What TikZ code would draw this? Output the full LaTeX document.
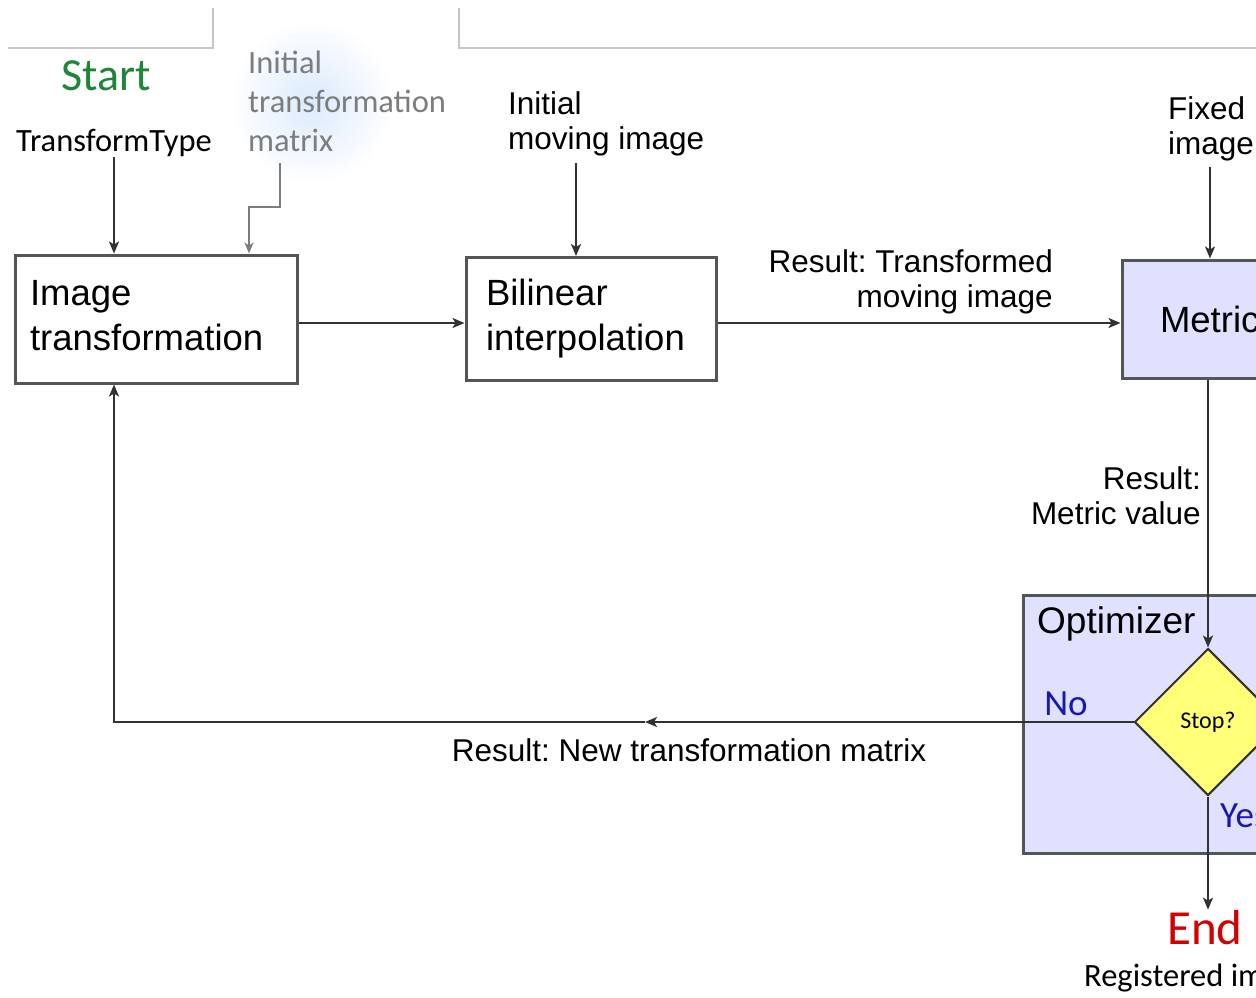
\documentclass[tikz,border=0pt]{standalone}
\usepackage{fontspec}
\setmainfont{Liberation Sans}
\newfontfamily\segoe{Carlito}
\usetikzlibrary{shapes.geometric,arrows.meta}
\definecolor{lav}{RGB}{224,224,255}
\definecolor{framec}{RGB}{85,85,85}
\definecolor{linec}{RGB}{50,50,50}
\definecolor{startg}{RGB}{30,135,55}
\definecolor{endr}{RGB}{210,0,0}
\definecolor{yesno}{RGB}{25,25,175}
\definecolor{stopy}{RGB}{255,255,120}
\definecolor{graytx}{RGB}{125,125,125}
\definecolor{glow}{RGB}{218,234,252}
\frenchspacing
\tikzset{
  box/.style={draw=framec, line width=3pt, rectangle, inner sep=0pt, align=left,
    font=\fontsize{36.5}{45}\selectfont},
  lab/.style={inner sep=0pt, font=\fontsize{31.5}{35}\selectfont},
  seg/.style={inner sep=0pt, font=\segoe\fontsize{32.5}{39}\selectfont},
  conn/.style={draw=linec, line width=2pt, -{Stealth[length=12pt,width=10pt,inset=3pt]}},
  gconn/.style={draw=graytx, line width=2pt, -{Stealth[length=11pt,width=9pt,inset=3pt]}},
}
\begin{document}
\begin{tikzpicture}[x=1pt,y=-1pt]
\useasboundingbox (0,0) rectangle (1256,997);
\clip (0,0) rectangle (1256,997);
\fill[white] (0,0) rectangle (1256,997);
% top frame lines
\draw[gray!45, line width=1.5pt] (8,48) -- (213,48) -- (213,8);
\draw[gray!45, line width=1.5pt] (459,8) -- (459,48) -- (1256,48);
% glow
\shade[inner color=glow, outer color=white] (312,102) circle (82);

% texts at top
\node[seg, text=startg, font=\segoe\fontsize{46}{50}\selectfont] (start) at (106,76) {Start};
\node[seg] (tt) at (114,143) {TransformType};
\node[seg, text=graytx, anchor=west, align=left] (mat) at (248,101) {Initial\\transformation\\matrix};
\node[lab, anchor=west, align=left] (imv) at (508,124) {Initial\\moving image};
\node[lab, anchor=west, align=left] (fix) at (1168,129) {Fixed\\image};

% boxes
\node[box, minimum width=282, minimum height=128, text width=252] (imgT) at (156,319) {Image\\transformation\rule[-8pt]{0pt}{1pt}};
\node[box, minimum width=250, minimum height=123, text width=210] (bil) at (591,319) {Bilinear\\interpolation\rule[-8pt]{0pt}{1pt}};
\node[box, fill=lav, minimum width=280, minimum height=118, text width=204] (met) at (1262,319) {Metric};
\node[box, fill=lav, line width=2.5pt, anchor=north west, minimum width=300, minimum height=258] (opt) at (1022,594) {};
\node[inner sep=0pt, anchor=west, font=\fontsize{37}{40}\selectfont] (optT) at (1037,624) {Optimizer};
\node[diamond, aspect=1, draw=black!80, line width=2pt, fill=stopy, minimum size=147, inner sep=0pt,
  font=\segoe\fontsize{24}{26}\selectfont] (stop) at (1208,722) {Stop?};

% connector anchor coordinates
\coordinate (g1) at (280,163);
\coordinate (g2) at (249,207);
\coordinate (a1) at (576,163);
\coordinate (f1) at (1210,167);
\coordinate (mid) at (645,722);

% connectors
\draw[conn] (tt.south) -- (tt.south |- imgT.north);
\draw[gconn] (g1) |- (g2) -- (g2 |- imgT.north);
\draw[conn] (a1) -- (a1 |- bil.north);
\draw[conn] (f1) -- (f1 |- met.north);
\draw[conn] ([yshift=-4pt]imgT.east) -- ([yshift=-4pt]bil.west);
\draw[conn] ([yshift=-4pt]bil.east) -- ([yshift=-4pt]met.west);
\draw[conn] (stop.north |- met.south) -- (stop.north);
\draw[conn] (stop.west) -- (mid);
\draw[conn] (mid) -- (mid -| tt.south) -- (tt.south |- imgT.south);

% end
\node[seg, text=endr, font=\segoe\fontsize{49}{52}\selectfont, inner sep=1pt] (endn) at (1205,928) {End};
\draw[conn] (stop.south) -- (stop.south |- endn.north);
\node[seg, anchor=west] (reg) at (1084,978) {Registered image};

% labels
\node[lab, anchor=east, align=right] (l1) at (1053,282) {Result: Transformed\\moving image};
\node[lab, anchor=east, align=right] (l2) at (1201,496) {Result:\\Metric value};
\node[lab] (l3) at (689,750) {Result: New transformation matrix};
\node[seg, text=yesno, font=\segoe\fontsize{37}{40}\selectfont] (no) at (1066,704) {No};
\node[seg, text=yesno, anchor=west, font=\segoe\fontsize{37}{40}\selectfont] (yes) at (1220,816) {Yes};
\end{tikzpicture}
\end{document}
